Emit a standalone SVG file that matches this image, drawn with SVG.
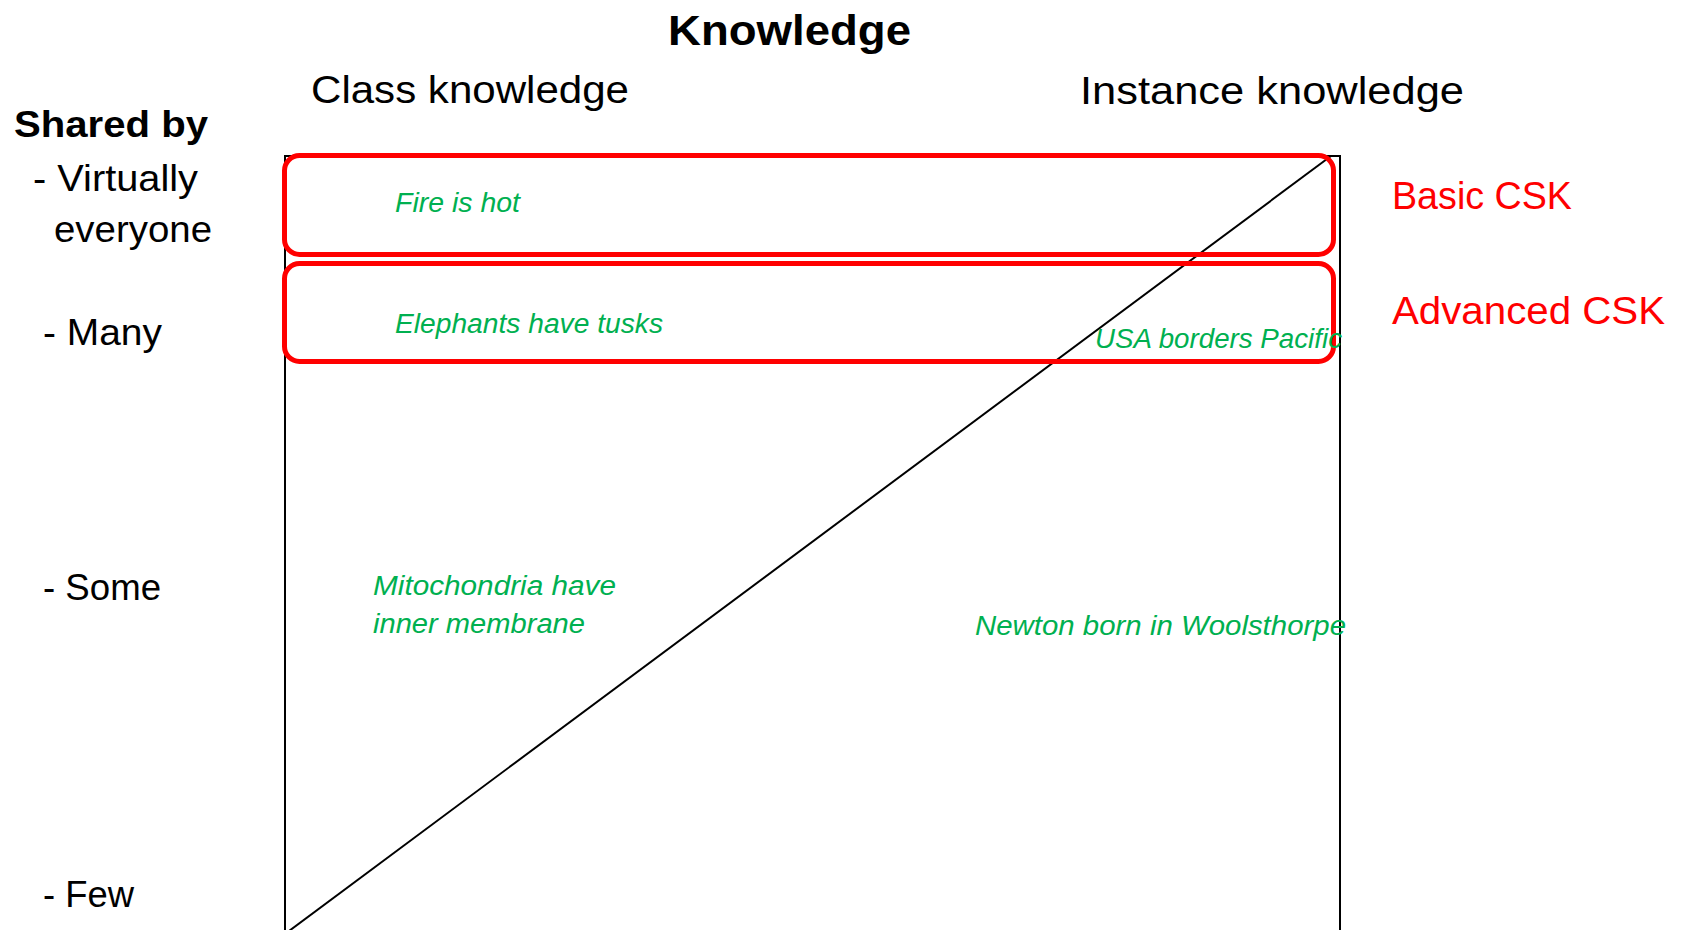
<svg xmlns="http://www.w3.org/2000/svg" width="1685" height="930" viewBox="0 0 1685 930">
<style>
.t{font-family:"Liberation Sans",Arial,sans-serif;fill:#000}
.b{font-weight:bold}
.g{font-family:"Liberation Sans",Arial,sans-serif;font-style:italic;fill:#00B050;font-size:27px}
.r{font-family:"Liberation Sans",Arial,sans-serif;fill:#FF0000;font-size:38px}
.band{fill:none;stroke:#FF0000;stroke-width:5}
</style>
<rect width="1685" height="930" fill="#fff"/>
<g id="headers">
<text class="t b" x="668" y="45" font-size="43" textLength="243" lengthAdjust="spacingAndGlyphs">Knowledge</text>
<text class="t" x="311" y="103" font-size="38" textLength="318" lengthAdjust="spacingAndGlyphs">Class knowledge</text>
<text class="t" x="1080" y="104" font-size="38" textLength="384" lengthAdjust="spacingAndGlyphs">Instance knowledge</text>
</g>
<g id="axis-labels">
<text class="t b" x="14" y="137" font-size="36" textLength="194" lengthAdjust="spacingAndGlyphs">Shared by</text>
<text class="t" x="33" y="191" font-size="36" textLength="165" lengthAdjust="spacingAndGlyphs">- Virtually</text>
<text class="t" x="54" y="242" font-size="36" textLength="158" lengthAdjust="spacingAndGlyphs">everyone</text>
<text class="t" x="43" y="345" font-size="36" textLength="119" lengthAdjust="spacingAndGlyphs">- Many</text>
<text class="t" x="43" y="600" font-size="36" textLength="118" lengthAdjust="spacingAndGlyphs">- Some</text>
<text class="t" x="43" y="907" font-size="36" textLength="91" lengthAdjust="spacingAndGlyphs">- Few</text>
</g>
<g id="frame">
<path d="M285 960 V156 H1340 V960" fill="none" stroke="#000" stroke-width="2"/>
</g>
<g id="connectors">
<line x1="1331" y1="156" x2="289" y2="931" stroke="#000" stroke-width="2"/>
</g>
<g id="basic-csk">
<rect class="band" x="284.5" y="155.5" width="1049" height="99" rx="15"/>
<text class="r" x="1392" y="209" textLength="180" lengthAdjust="spacingAndGlyphs">Basic CSK</text>
</g>
<g id="advanced-csk">
<rect class="band" x="284.5" y="263.5" width="1049" height="98" rx="15"/>
<text class="r" x="1392" y="324" textLength="273" lengthAdjust="spacingAndGlyphs">Advanced CSK</text>
</g>
<g id="examples">
<text class="g" x="395" y="212" textLength="125" lengthAdjust="spacingAndGlyphs">Fire is hot</text>
<text class="g" x="395" y="333" textLength="268" lengthAdjust="spacingAndGlyphs">Elephants have tusks</text>
<text class="g" x="1095" y="348" textLength="247" lengthAdjust="spacingAndGlyphs">USA borders Pacific</text>
<text class="g" x="373" y="595" textLength="243" lengthAdjust="spacingAndGlyphs">Mitochondria have</text>
<text class="g" x="373" y="633" textLength="212" lengthAdjust="spacingAndGlyphs">inner membrane</text>
<text class="g" x="975" y="635" textLength="371" lengthAdjust="spacingAndGlyphs">Newton born in Woolsthorpe</text>
</g>
</svg>
